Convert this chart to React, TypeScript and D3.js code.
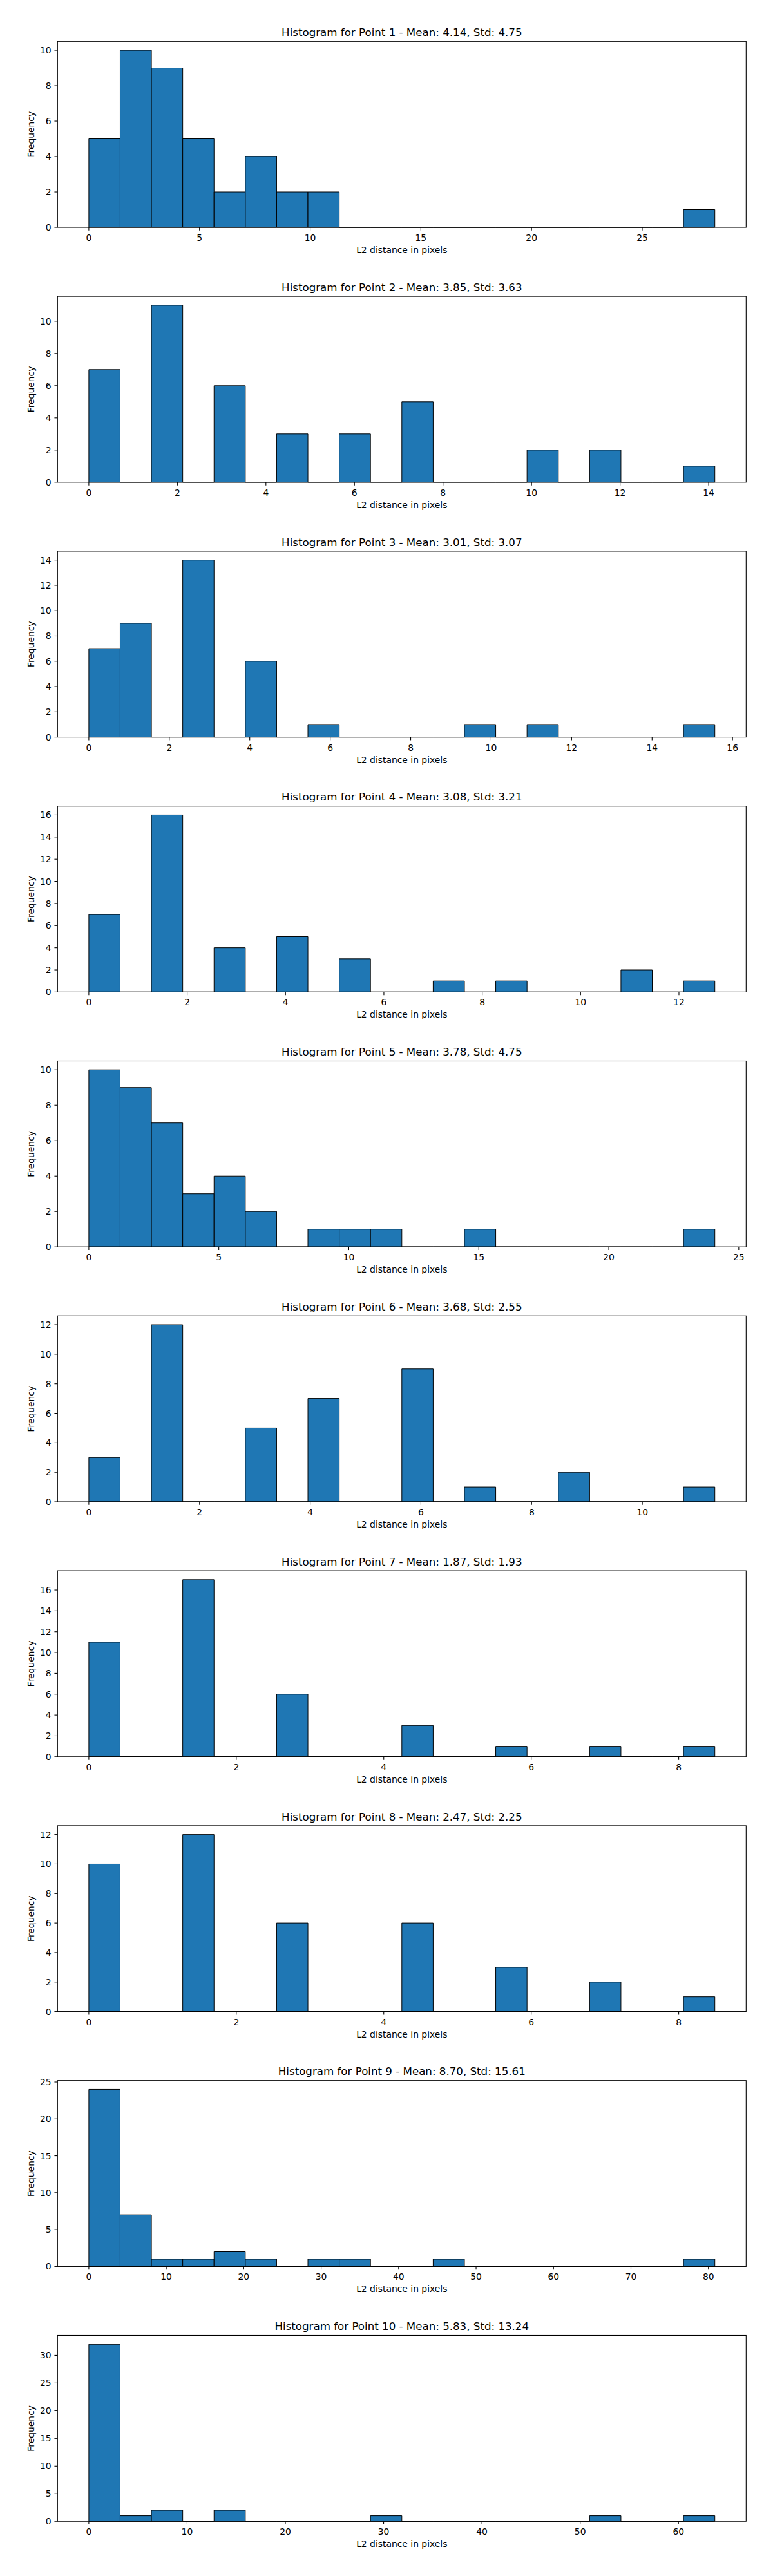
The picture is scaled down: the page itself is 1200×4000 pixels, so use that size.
import * as d3 from "d3"

// 20-bin histogram counts for each point
const POINT_1 = [5, 10, 9, 5, 2, 4, 2, 2, 0, 0, 0, 0, 0, 0, 0, 0, 0, 0, 0, 1]
const POINT_2 = [7, 0, 11, 0, 6, 0, 3, 0, 3, 0, 5, 0, 0, 0, 2, 0, 2, 0, 0, 1]
const POINT_3 = [7, 9, 0, 14, 0, 6, 0, 1, 0, 0, 0, 0, 1, 0, 1, 0, 0, 0, 0, 1]
const POINT_4 = [7, 0, 16, 0, 4, 0, 5, 0, 3, 0, 0, 1, 0, 1, 0, 0, 0, 2, 0, 1]
const POINT_5 = [10, 9, 7, 3, 4, 2, 0, 1, 1, 1, 0, 0, 1, 0, 0, 0, 0, 0, 0, 1]
const POINT_6 = [3, 0, 12, 0, 0, 5, 0, 7, 0, 0, 9, 0, 1, 0, 0, 2, 0, 0, 0, 1]
const POINT_7 = [11, 0, 0, 17, 0, 0, 6, 0, 0, 0, 3, 0, 0, 1, 0, 0, 1, 0, 0, 1]
const POINT_8 = [10, 0, 0, 12, 0, 0, 6, 0, 0, 0, 6, 0, 0, 3, 0, 0, 2, 0, 0, 1]
const POINT_9 = [24, 7, 1, 1, 2, 1, 0, 1, 1, 0, 0, 1, 0, 0, 0, 0, 0, 0, 0, 1]
const POINT_10 = [32, 1, 2, 0, 2, 0, 0, 0, 0, 1, 0, 0, 0, 0, 0, 0, 1, 0, 0, 1]

const COUNTS = [POINT_1, POINT_2, POINT_3, POINT_4, POINT_5, POINT_6, POINT_7, POINT_8, POINT_9, POINT_10]

// largest distance per point (right edge of the last bin)
const X_MAX = [28.28, 14.14, 15.56, 12.73, 24.08, 11.31, 8.49, 8.49, 80.83, 63.7]

const MEANS = [4.14, 3.85, 3.01, 3.08, 3.78, 3.68, 1.87, 2.47, 8.7, 5.83]
const STDS = [4.75, 3.63, 3.07, 3.21, 4.75, 2.55, 1.93, 2.25, 15.61, 13.24]

// tick spacing per subplot
const X_TICK_STEP = [5, 2, 2, 2, 5, 2, 2, 2, 10, 10]
const Y_TICK_STEP = [2, 2, 2, 2, 2, 2, 2, 2, 5, 5]

const W = 1200
const H = 4000
const LEFT = 89.3
const RIGHT = 1158.3
const TOP = 64.3
const PLOT_H = 288.7
const PERIOD = 395.8
const FONT = "DejaVu Sans"
const BAR_FILL = "#1f77b4"

function Histogram({ index }: { index: number }) {
  const counts = COUNTS[index]
  const xMax = X_MAX[index]
  const nBins = counts.length
  const edges = d3.range(nBins + 1).map((i) => (i * xMax) / nBins)
  const yMax = (d3.max(counts) ?? 1) * 1.05

  const top = TOP + index * PERIOD
  const bottom = top + PLOT_H

  const x = d3
    .scaleLinear()
    .domain([-0.05 * xMax, 1.05 * xMax])
    .range([LEFT, RIGHT])
  const y = d3.scaleLinear().domain([0, yMax]).range([bottom, top])

  const xTicks = d3.range(0, 1.05 * xMax + 1e-9, X_TICK_STEP[index])
  const yTicks = d3.range(0, yMax + 1e-9, Y_TICK_STEP[index])

  const title = `Histogram for Point ${index + 1} - Mean: ${MEANS[index].toFixed(2)}, Std: ${STDS[index].toFixed(2)}`
  const midX = (LEFT + RIGHT) / 2

  return (
    <g>
      {counts.map((c, i) => {
        const x0 = x(edges[i])
        const x1 = x(edges[i + 1])
        const y0 = y(0)
        const y1 = y(c)
        return (
          <path
            key={i}
            d={`M${x0},${y0}V${y1}H${x1}V${y0}Z`}
            fill={BAR_FILL}
            stroke="#000"
            strokeWidth={1}
          />
        )
      })}

      <rect
        x={LEFT}
        y={top}
        width={RIGHT - LEFT}
        height={PLOT_H}
        fill="none"
        stroke="#000"
        strokeWidth={1.1}
      />

      {xTicks.map((t) => (
        <g key={`x${t}`}>
          <line x1={x(t)} x2={x(t)} y1={bottom} y2={bottom + 4.86} stroke="#000" strokeWidth={1.1} />
          <text x={x(t)} y={bottom + 21} textAnchor="middle" fontSize={13.89} fontFamily={FONT}>
            {t}
          </text>
        </g>
      ))}

      {yTicks.map((t) => (
        <g key={`y${t}`}>
          <line x1={LEFT - 4.86} x2={LEFT} y1={y(t)} y2={y(t)} stroke="#000" strokeWidth={1.1} />
          <text x={LEFT - 9.72} y={y(t)} dy="0.36em" textAnchor="end" fontSize={13.89} fontFamily={FONT}>
            {t}
          </text>
        </g>
      ))}

      <text x={midX} y={top - 8.3} textAnchor="middle" fontSize={16.67} fontFamily={FONT}>
        {title}
      </text>
      <text x={midX} y={bottom + 40} textAnchor="middle" fontSize={13.89} fontFamily={FONT}>
        L2 distance in pixels
      </text>
      <text
        transform={`translate(53,${(top + bottom) / 2}) rotate(-90)`}
        textAnchor="middle"
        fontSize={13.89}
        fontFamily={FONT}
      >
        Frequency
      </text>
    </g>
  )
}

export default function App() {
  return (
    <svg
      width={W}
      height={H}
      viewBox={`0 0 ${W} ${H}`}
      style={{ position: "absolute", left: 0, top: 0, background: "#fff" }}
    >
      <rect width={W} height={H} fill="#fff" />
      {COUNTS.map((_, i) => (
        <Histogram key={i} index={i} />
      ))}
    </svg>
  )
}
